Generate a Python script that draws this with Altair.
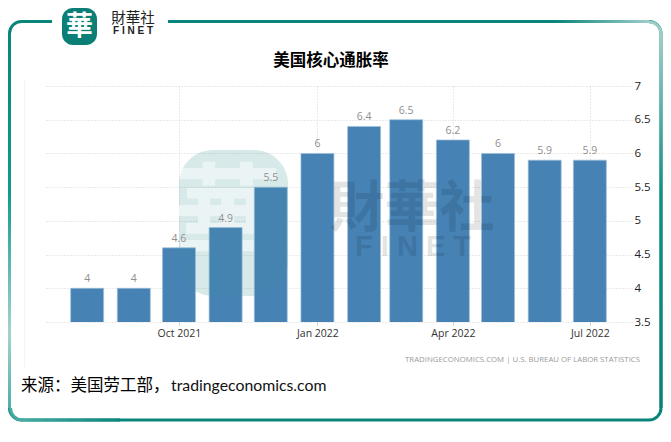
import altair as alt
import pandas as pd

months = ["2021-08-01","2021-09-01","2021-10-01","2021-11-01","2021-12-01","2022-01-01",
          "2022-02-01","2022-03-01","2022-04-01","2022-05-01","2022-06-01","2022-07-01"]
values = [4, 4, 4.6, 4.9, 5.5, 6, 6.4, 6.5, 6.2, 6, 5.9, 5.9]
labels = ["4","4","4.6","4.9","5.5","6","6.4","6.5","6.2","6","5.9","5.9"]
tick_dates = ["2021-10-01","2022-01-01","2022-04-01","2022-07-01"]
y_ticks = [3.5,4,4.5,5,5.5,6,6.5,7]
x_domain = ["2021-07-04","2022-07-29"]

def ms(s):
    return int(pd.Timestamp(s).value // 10**6)

df = pd.DataFrame({"month": months, "value": values, "label": labels})
OX, OY = 45, 86
CJK = "Noto Sans CJK SC"
TEAL = "#0a857b"

def X(p): return alt.value(p - OX)
def Y(p): return alt.value(p - OY)

def txt(s, x, y, size, color="#000", font=CJK, weight="normal", align="left", opacity=1.0):
    return alt.Chart().mark_text(text=s, font=font, fontSize=size, color=color, fontWeight=weight,
                                 align=align, baseline="middle", opacity=opacity).encode(x=X(x), y=Y(y))

def box(x1, y1, x2, y2, **kw):
    return alt.Chart().mark_rect(**kw).encode(x=X(x1), x2=X(x2), y=Y(y1), y2=Y(y2))

def vgrad(stops):
    return alt.LinearGradient(gradient="linear", x1=0, y1=0, x2=0, y2=1,
                              stops=[alt.GradientStop(offset=o, color=c) for o, c in stops])
def hgrad(stops):
    return alt.LinearGradient(gradient="linear", x1=0, y1=0, x2=1, y2=0,
                              stops=[alt.GradientStop(offset=o, color=c) for o, c in stops])

x_enc = alt.X("month:T",
    scale=alt.Scale(type="utc", domain=[ms(d) for d in x_domain], padding=0),
    axis=alt.Axis(values=[ms(d) for d in tick_dates], labelExpr="utcFormat(datum.value, '%b %Y')", title=None,
                  grid=True, gridColor="#d4d4d4", gridDash=[1, 2], gridWidth=1,
                  domain=False, tickColor="#cccccc", tickSize=3, labelPadding=3,
                  labelFont="Open Sans", labelFontSize=10.5, labelColor="#333333",
                  labelAngle=0, labelFlush=False, labelOverlap=False))
y_enc = alt.Y("value:Q",
    scale=alt.Scale(domain=[3.5, 7], nice=False, zero=False),
    axis=alt.Axis(values=y_ticks, format="~g", orient="right", title=None,
                  grid=True, gridColor="#d4d4d4", gridDash=[1, 2], gridWidth=1,
                  domain=False, ticks=False, labelPadding=2, labelOverlap=False, labelFlush=False,
                  labelFont="Open Sans", labelFontSize=11.5, labelColor="#222222"))

bars = alt.Chart(df).mark_bar(width=33, color="#4682B4", stroke="#9fc0dc", strokeWidth=1,
                              strokeOpacity=0.7, clip=True).encode(x=x_enc, y=y_enc)
bar_labels = alt.Chart(df).mark_text(font="Open Sans", fontSize=10.5, color="#8f8f8f",
                                     baseline="bottom", dy=-4).encode(
    x=x_enc, y=y_enc, text="label:N")

layers = [
    # faint left edge of the embedded picture
    box(24, 80, 25, 367, fill="#f3f3f3"),
    # watermark behind the bars
    box(179, 150, 288, 296, fill="#3f9f98", opacity=0.14, cornerRadius=34),
    txt("華", 228, 222, 108, color="#ffffff", weight="bold", align="center", opacity=0.85),
    bars,
    # watermark over the bars
    box(179, 150, 288, 296, fill="#3f9f98", opacity=0.08, cornerRadius=34),
    bar_labels,
    txt("財華社", 412, 209, 55, color="#000000", weight="bold", align="center", opacity=0.10),
    txt("F I N E T", 413, 247, 29, color="#000000", font="Liberation Sans", weight="bold",
        align="center", opacity=0.10),
    # chart credit
    txt("TRADINGECONOMICS.COM  |  U.S. BUREAU OF LABOR STATISTICS", 640, 360, 7.8, color="#9a9a9a",
        font="Open Sans", align="right"),
    # title and source
    txt("美国核心通胀率", 331, 61, 16.5, weight="bold", align="center"),
    txt("来源：美国劳工部，", 21, 386, 16.5),
    txt("tradingeconomics.com", 171, 386, 15.8, font="Lato", color="#111111"),
    # frame
    alt.Chart().mark_rect(filled=False, stroke=TEAL, strokeWidth=3, cornerRadius=12).encode(
        x=X(9.5), x2=X(661), y=Y(21.5), y2=Y(420)),
    box(8, 36, 11, 408, fill=vgrad([(0, "#0a857b"), (0.42, "#0f9a92"), (0.8, "#a5d3cf"), (1, "#4eaea7")])),
    box(659.5, 34, 662.5, 408, fill=vgrad([(0, "#a3cfcb"), (0.42, "#0f8f86"), (1, "#0a7f75")])),
    box(22, 418.5, 120, 421.5, fill=hgrad([(0, "#46aba3"), (1, TEAL)])),
    box(555, 20, 649, 23, fill=hgrad([(0, TEAL), (1, "#9fcdc9")])),
    alt.Chart().mark_arc(radius=13.5, radius2=10.5, theta=3.1416, theta2=4.7124, color="#46aba3").encode(
        x=X(22.5), y=Y(408)),
    alt.Chart().mark_arc(radius=13.5, radius2=10.5, theta=0, theta2=1.5708, color="#9fcdc9").encode(
        x=X(649), y=Y(34)),
    # logo
    box(52, 14, 168, 28, fill="#ffffff"),
    box(62, 8, 97, 45, fill="#0b7f75", cornerRadius=11),
    txt("華", 79.5, 27, 27, color="#ffffff", weight="bold", align="center"),
    txt("財華社", 133, 18.5, 14.5, color="#222222", weight="normal", align="center"),
    txt("F I N E T", 133, 30.5, 10, color="#222222", font="Liberation Sans", weight="bold", align="center"),
]

chart = alt.layer(*layers).properties(
    width=587, height=236,
    autosize=alt.AutoSizeParams(type="none"),
    padding={"left": 37, "top": 78, "right": 31, "bottom": 112},
    background="white",
).configure_view(stroke=None)

chart.save("out.html", embed_options={"renderer": "svg", "actions": False})
